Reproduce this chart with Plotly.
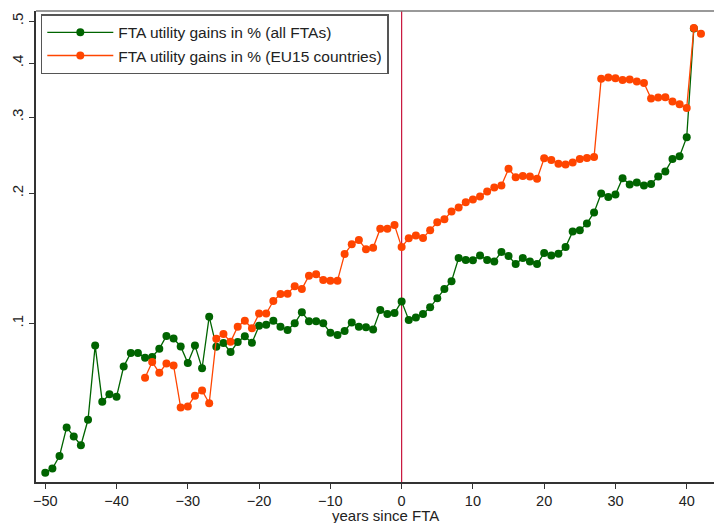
import plotly.graph_objects as go

years_all = list(range(-50, 42))
gains_all = [
    0.0452, 0.0462, 0.0494, 0.0575, 0.0548, 0.0523, 0.0599, 0.0889, 0.0659, 0.0686,
    0.0677, 0.0795, 0.0855, 0.0855, 0.0833, 0.0837, 0.0874, 0.0936, 0.0923, 0.0885,
    0.0810, 0.0890, 0.0788, 0.1037, 0.0884, 0.0901, 0.0859, 0.0906, 0.0934, 0.0902,
    0.0988, 0.0994, 0.1015, 0.0983, 0.0966, 0.1001, 0.1062, 0.1012, 0.1012, 0.1001,
    0.0952, 0.0941, 0.0961, 0.1006, 0.0983, 0.0980, 0.0968, 0.1074, 0.1052, 0.1057,
    0.1125, 0.1019, 0.1032, 0.1052, 0.1090, 0.1144, 0.1201, 0.1252, 0.1417, 0.1402,
    0.1400, 0.1437, 0.1402, 0.1392, 0.1463, 0.1432, 0.1372, 0.1417, 0.1392, 0.1372,
    0.1455, 0.1437, 0.1450, 0.1502, 0.1631, 0.1644, 0.1704, 0.1806, 0.1998, 0.1962,
    0.1988, 0.2168, 0.2097, 0.2119, 0.2085, 0.2103, 0.2188, 0.2247, 0.2402, 0.2437,
    0.2696, 0.4810,
]

years_eu = list(range(-36, 43))
gains_eu = [
    0.0749, 0.0815, 0.0769, 0.0808, 0.0800, 0.0639, 0.0643, 0.0681, 0.0700, 0.0654,
    0.0922, 0.0946, 0.0907, 0.0983, 0.1015, 0.0975, 0.1054, 0.1054, 0.1127, 0.1170,
    0.1172, 0.1220, 0.1201, 0.1290, 0.1299, 0.1261, 0.1256, 0.1256, 0.1447, 0.1524,
    0.1559, 0.1484, 0.1496, 0.1656, 0.1656, 0.1689, 0.1502, 0.1574, 0.1597, 0.1576,
    0.1644, 0.1714, 0.1741, 0.1816, 0.1855, 0.1908, 0.1936, 0.1967, 0.2020, 0.2063,
    0.2085, 0.2278, 0.2179, 0.2194, 0.2188, 0.2160, 0.2411, 0.2388, 0.2342, 0.2333,
    0.2357, 0.2402, 0.2415, 0.2428, 0.3683, 0.3703, 0.3689, 0.3656, 0.3664, 0.3625,
    0.3598, 0.3312, 0.3330, 0.3335, 0.3260, 0.3213, 0.3151, 0.4821, 0.4679,
]

y_ticks = [0.1, 0.2, 0.3, 0.4, 0.5]
y_tick_labels = [".1", ".2", ".3", ".4", ".5"]
x_ticks = [-50, -40, -30, -20, -10, 0, 10, 20, 30, 40]
x_title = "years since FTA"

GREEN = "#006400"
ORANGE = "#FF4500"
FONT = "Liberation Sans, Arial, sans-serif"
TXT = "#222222"

fig = go.Figure()
fig.add_trace(go.Scatter(
    x=years_all, y=gains_all, mode="lines+markers",
    name="FTA utility gains in % (all FTAs)",
    line=dict(color=GREEN, width=1.3),
    marker=dict(color=GREEN, size=8),
))
fig.add_trace(go.Scatter(
    x=years_eu, y=gains_eu, mode="lines+markers",
    name="FTA utility gains in % (EU15 countries)",
    line=dict(color=ORANGE, width=1.3),
    marker=dict(color=ORANGE, size=8),
))

fig.add_shape(type="line", xref="x", yref="paper", x0=0, x1=0, y0=0, y1=1,
              line=dict(color="#C8143C", width=1.2), layer="below")
fig.add_shape(type="line", xref="paper", yref="paper", x0=0, x1=1, y0=1, y1=1,
              line=dict(color="#777777", width=1.6))

fig.add_annotation(
    text=x_title, xref="paper", yref="paper", x=0.509, y=-0.071,
    xanchor="center", yanchor="middle", showarrow=False,
    font=dict(family=FONT, size=15, color=TXT),
)

# the page body adds an 8px margin, so the figure is sized to end at the window edge
fig.update_layout(
    width=714, height=515,
    margin=dict(l=28, r=0, t=3, b=41, autoexpand=False),
    paper_bgcolor="white", plot_bgcolor="white",
    font=dict(family=FONT, size=15, color=TXT),
    showlegend=True,
    legend=dict(
        x=0.007, y=0.993, xanchor="left", yanchor="top",
        bordercolor="#555555", borderwidth=1.5, bgcolor="white",
        font=dict(family=FONT, size=15.5, color=TXT),
        itemwidth=66, tracegroupgap=1.5,
    ),
    xaxis=dict(
        range=[-51.3, 44.95], tickvals=x_ticks, automargin=False,
        showgrid=False, zeroline=False,
        showline=True, linecolor="#333333", linewidth=1.6,
        ticks="outside", ticklen=5, tickcolor="#333333",
        tickfont=dict(size=14.5),
    ),
    yaxis=dict(
        type="log", range=[-1.3665, -0.2774], automargin=False,
        tickvals=y_ticks, ticktext=y_tick_labels, tickangle=-90,
        showgrid=False, zeroline=False,
        showline=True, linecolor="#333333", linewidth=1.6,
        ticks="outside", ticklen=5, tickcolor="#333333",
        tickfont=dict(size=15),
    ),
)

fig.write_html("out.html")
